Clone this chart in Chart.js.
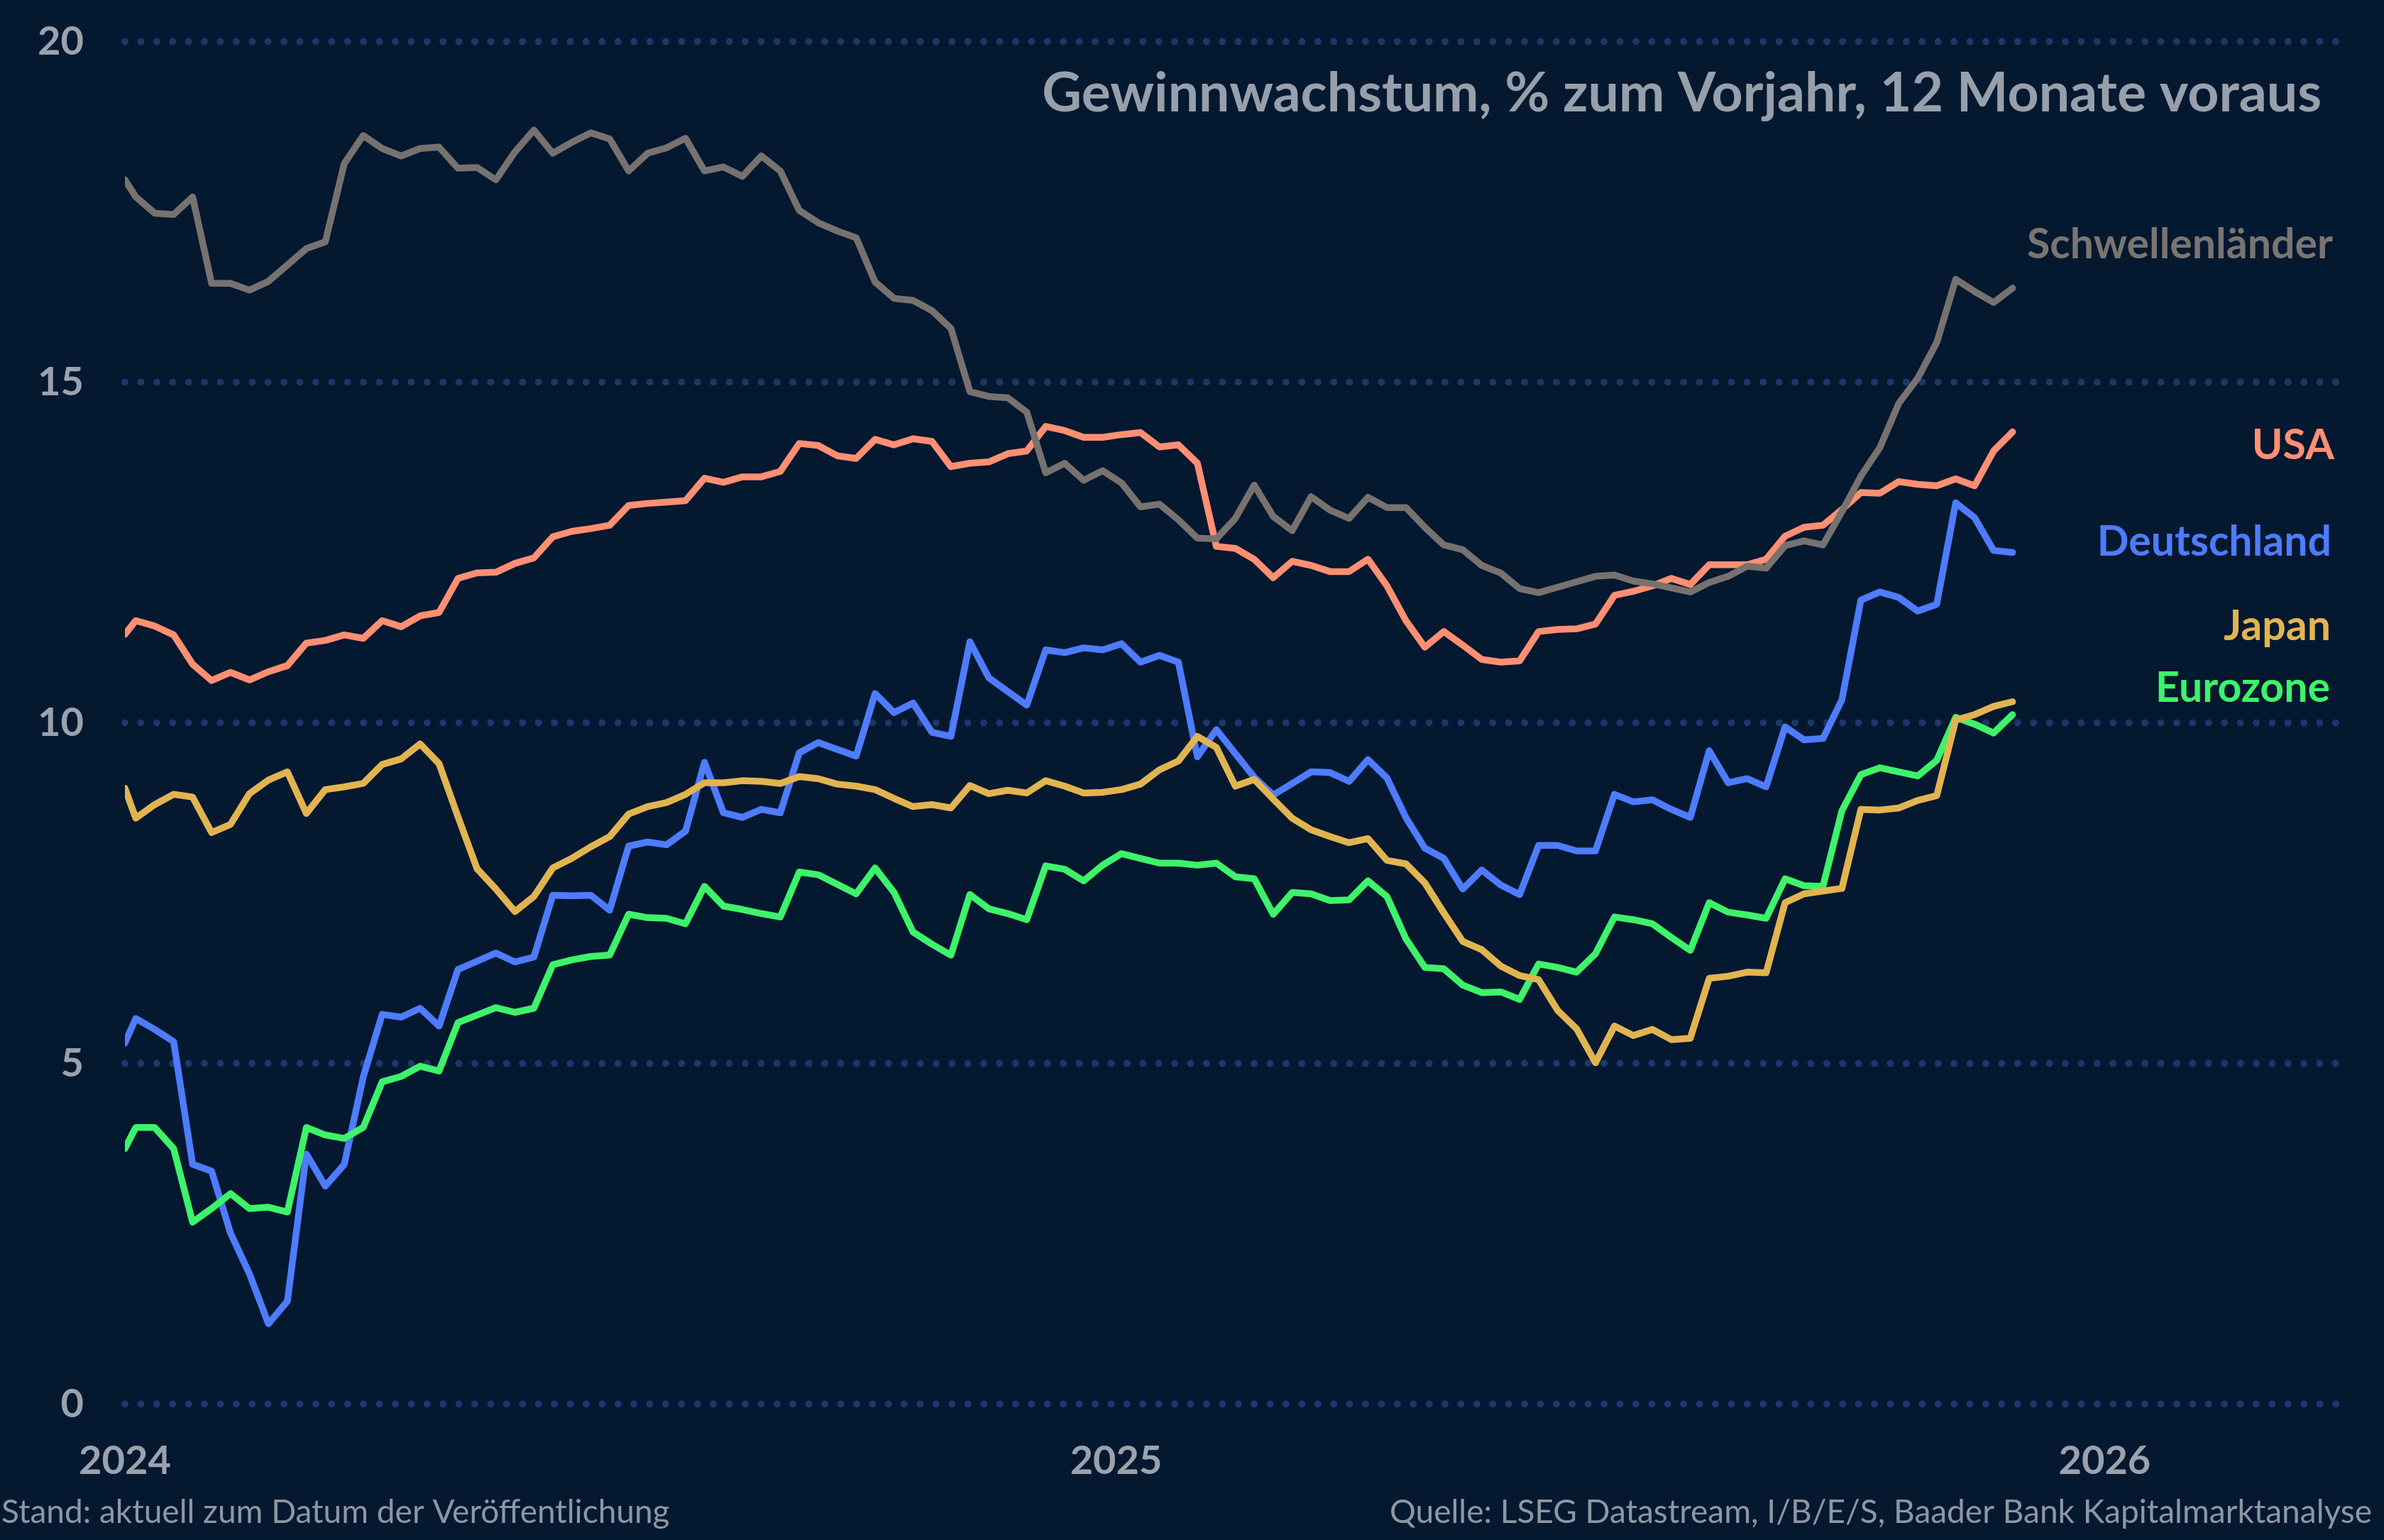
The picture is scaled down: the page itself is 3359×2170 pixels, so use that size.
<!DOCTYPE html>
<html>
<head>
<meta charset="utf-8">
<script src="https://cdn.jsdelivr.net/npm/chart.js@4.4.1/dist/chart.umd.min.js"></script>
<style>
  html, body { margin: 0; padding: 0; background: #041830; }
  #wrap { width: 3359px; height: 2170px; position: relative; }
</style>
</head>
<body>
<div id="wrap"><canvas id="myChart"></canvas></div>
<script>
// weekly observations (Fridays), first value on 1 Jan 2024
let firstDay = Date.UTC(2024, 0, 1);
let firstFriday = Date.UTC(2024, 0, 5);
let nWeeks = 100;

let schwellen = [17.97,17.72,17.48,17.46,17.72,16.45,16.45,16.35,16.48,16.72,16.96,17.06,18.21,18.62,18.43,18.32,18.43,18.45,18.14,18.15,
  17.97,18.38,18.70,18.36,18.52,18.66,18.57,18.10,18.36,18.44,18.58,18.10,18.16,18.02,18.32,18.10,17.52,17.34,17.22,17.12,
  16.47,16.23,16.20,16.05,15.79,14.86,14.79,14.77,14.56,13.67,13.81,13.56,13.70,13.52,13.17,13.21,12.98,12.71,12.70,13.00,
  13.49,13.03,12.82,13.32,13.12,13.00,13.31,13.16,13.16,12.87,12.61,12.54,12.31,12.20,11.97,11.91,11.99,12.07,12.15,12.17,
  12.08,12.04,11.98,11.92,12.06,12.15,12.30,12.27,12.60,12.67,12.61,13.10,13.62,14.04,14.69,15.06,15.58,16.51,16.33,16.17,16.38];

let usa = [11.30,11.50,11.42,11.29,10.86,10.62,10.74,10.63,10.75,10.84,11.17,11.21,11.29,11.24,11.50,11.41,11.57,11.62,12.12,12.20,
  12.21,12.34,12.42,12.73,12.81,12.85,12.90,13.19,13.22,13.24,13.26,13.59,13.53,13.61,13.61,13.69,14.10,14.07,13.92,13.88,
  14.16,14.08,14.17,14.13,13.76,13.81,13.83,13.95,13.99,14.35,14.29,14.19,14.19,14.23,14.26,14.05,14.08,13.81,12.59,12.56,
  12.40,12.13,12.37,12.31,12.22,12.22,12.40,12.01,11.50,11.11,11.34,11.14,10.93,10.89,10.91,11.34,11.37,11.38,11.45,11.87,
  11.93,12.01,12.12,12.03,12.32,12.32,12.32,12.40,12.74,12.87,12.90,13.13,13.38,13.37,13.54,13.50,13.48,13.58,13.48,13.99,14.27];

let deutschland = [5.30,5.66,5.50,5.32,3.52,3.42,2.51,1.91,1.18,1.51,3.67,3.20,3.52,4.80,5.72,5.68,5.81,5.55,6.38,6.50,
  6.62,6.49,6.56,7.47,7.46,7.47,7.25,8.19,8.25,8.21,8.41,9.42,8.68,8.61,8.73,8.68,9.56,9.71,9.61,9.51,
  10.43,10.15,10.29,9.86,9.80,11.19,10.66,10.46,10.26,11.07,11.03,11.10,11.07,11.16,10.89,10.99,10.89,9.50,9.90,9.55,
  9.20,8.94,9.11,9.28,9.27,9.14,9.46,9.19,8.61,8.16,8.01,7.56,7.84,7.62,7.48,8.20,8.20,8.12,8.12,8.95,
  8.84,8.87,8.73,8.61,9.59,9.12,9.18,9.06,9.94,9.75,9.77,10.34,11.80,11.92,11.84,11.64,11.74,13.23,13.01,12.53,12.50];

let japan = [9.04,8.60,8.80,8.95,8.91,8.39,8.51,8.96,9.16,9.28,8.67,9.02,9.06,9.11,9.39,9.47,9.69,9.40,8.62,7.86,
  7.56,7.23,7.45,7.87,8.01,8.18,8.33,8.66,8.77,8.83,8.95,9.12,9.12,9.15,9.14,9.11,9.21,9.18,9.10,9.07,
  9.02,8.89,8.77,8.80,8.75,9.08,8.96,9.01,8.97,9.15,9.07,8.97,8.98,9.02,9.10,9.31,9.44,9.80,9.64,9.07,
  9.17,8.88,8.60,8.43,8.33,8.24,8.30,7.98,7.93,7.65,7.21,6.79,6.67,6.43,6.29,6.23,5.78,5.51,5.01,5.55,
  5.41,5.50,5.35,5.37,6.25,6.28,6.34,6.33,7.36,7.49,7.53,7.57,8.73,8.72,8.75,8.86,8.93,10.04,10.12,10.24,10.31];

let eurozone = [3.75,4.06,4.06,3.75,2.67,2.87,3.09,2.87,2.89,2.82,4.06,3.95,3.90,4.06,4.73,4.81,4.96,4.89,5.60,5.71,
  5.82,5.75,5.81,6.45,6.52,6.57,6.59,7.19,7.14,7.13,7.05,7.60,7.31,7.26,7.20,7.15,7.81,7.77,7.63,7.49,
  7.87,7.51,6.93,6.75,6.59,7.48,7.27,7.20,7.11,7.90,7.85,7.68,7.91,8.08,8.01,7.94,7.94,7.91,7.94,7.74,
  7.71,7.19,7.51,7.49,7.39,7.40,7.68,7.45,6.83,6.41,6.39,6.15,6.04,6.05,5.94,6.46,6.41,6.34,6.61,7.15,
  7.11,7.05,6.85,6.66,7.36,7.22,7.18,7.13,7.71,7.61,7.60,8.71,9.24,9.34,9.28,9.22,9.45,10.08,9.98,9.85,10.12];

let xTickLabels = ['2024', '2025', '2026'];
let xTickDates = [Date.UTC(2024, 0, 1), Date.UTC(2025, 0, 1), Date.UTC(2026, 0, 1)];
let xEnd = Date.UTC(2026, 2, 31);
let yTicks = [0, 5, 10, 15, 20];

const DAY = 86400000;
let dayOf = t => (t - firstDay) / DAY;

let weeks = [0];
for (let i = 0; i < nWeeks; i++) {
  weeks.push(dayOf(firstFriday) + i * 7);
}
let xTicks = xTickDates.map(dayOf);

let toPoints = arr => arr.map((v, i) => ({ x: weeks[i], y: v }));

let seriesLabels = [
  { text: 'Schwellenländer', color: '#7a7572', x: 3287, y: 364 },
  { text: 'USA', color: '#ff8f73', x: 3289, y: 647 },
  { text: 'Deutschland', color: '#4e7cff', x: 3285, y: 783 },
  { text: 'Japan', color: '#e2b450', x: 3284, y: 902 },
  { text: 'Eurozone', color: '#3ef26a', x: 3283, y: 989 }
];

let backdrop = {
  id: 'backdrop',
  beforeDraw(chart) {
    let c = chart.ctx;
    c.save();
    c.fillStyle = '#041830';
    c.fillRect(0, 0, chart.width, chart.height);
    c.restore();
  },
  beforeDatasetsDraw(chart) {
    let c = chart.ctx;
    let a = chart.chartArea;
    let ys = chart.scales.y;
    c.save();
    c.strokeStyle = '#1e3768';
    c.lineWidth = 10;
    c.lineCap = 'round';
    c.setLineDash([0.01, 22.4]);
    yTicks.forEach(v => {
      let py = ys.getPixelForValue(v);
      c.beginPath();
      c.moveTo(a.left, py);
      c.lineTo(a.right, py);
      c.stroke();
    });
    c.restore();
  },
  afterDraw(chart) {
    let c = chart.ctx;
    c.save();
    c.textAlign = 'right';
    c.textBaseline = 'alphabetic';
    c.fillStyle = '#97a0aa';
    c.font = 'bold 77px Lato';
    c.fillText('Gewinnwachstum, % zum Vorjahr, 12 Monate voraus', 3271, 157);
    c.font = 'bold 59px Lato';
    seriesLabels.forEach(l => {
      c.fillStyle = l.color;
      c.fillText(l.text, l.x, l.y);
    });
    c.font = '46px Lato';
    c.fillStyle = '#8d97a3';
    c.fillText('Quelle: LSEG Datastream, I/B/E/S, Baader Bank Kapitalmarktanalyse', 3342, 2146);
    c.textAlign = 'left';
    c.fillText('Stand: aktuell zum Datum der Veröffentlichung', 2, 2146);
    c.restore();
  }
};

let line = (label, data, color) => ({
  label: label,
  data: toPoints(data),
  borderColor: color,
  backgroundColor: color,
  borderWidth: 9.5,
  pointRadius: 0,
  borderJoinStyle: 'round',
  borderCapStyle: 'round',
  tension: 0
});

let ctx = document.getElementById('myChart').getContext('2d');

let myChart = new Chart(ctx, {
  type: 'line',
  data: {
    datasets: [
      line('Schwellenländer', schwellen, '#77726f'),
      line('USA', usa, '#ff8f73'),
      line('Japan', japan, '#e2b450'),
      line('Eurozone', eurozone, '#3ef26a'),
      line('Deutschland', deutschland, '#4e7cff')
    ]
  },
  options: {
    responsive: true,
    maintainAspectRatio: false,
    devicePixelRatio: 1,
    animation: false,
    layout: { padding: { top: 58.5, right: 54, left: 0, bottom: 0 } },
    plugins: { legend: { display: false }, tooltip: { enabled: false } },
    scales: {
      x: {
        type: 'linear',
        min: 0,
        max: dayOf(xEnd),
        afterBuildTicks: s => { s.ticks = xTicks.map(v => ({ value: v })); },
        afterFit: s => { s.height = 191.5; },
        grid: { display: false, drawTicks: false },
        border: { display: false },
        ticks: {
          autoSkip: false,
          maxRotation: 0,
          padding: 47,
          color: '#9aa2ac',
          font: { family: 'Lato', size: 56, weight: 'bold' },
          callback: v => xTickLabels[xTicks.indexOf(v)]
        }
      },
      y: {
        min: 0,
        max: 20,
        afterBuildTicks: s => { s.ticks = yTicks.map(v => ({ value: v })); },
        afterFit: s => {
          s.width = 176;
          // tick padding should not push the plot area down
          s.paddingTop = 0;
          s.paddingBottom = 0;
        },
        grid: { display: false, drawTicks: false },
        border: { display: false },
        ticks: {
          padding: 58,
          color: '#9aa2ac',
          font: { family: 'Lato', size: 56, weight: 'bold' },
          callback: v => String(v)
        }
      }
    }
  },
  plugins: [backdrop]
});
</script>
</body>
</html>
